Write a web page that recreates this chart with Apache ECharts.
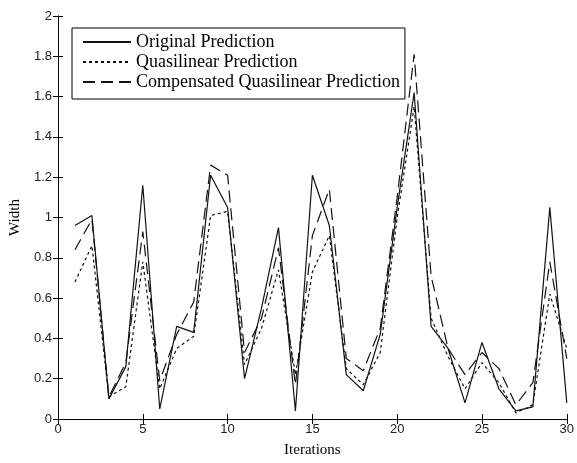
<!DOCTYPE html>
<html>
<head>
<meta charset="utf-8">
<script src="https://cdn.jsdelivr.net/npm/echarts@6/dist/echarts.min.js"></script>
<style>
html,body{margin:0;padding:0;background:#fff;}
#chart{width:577px;height:463px;}
</style>
</head>
<body>
<div id="chart"></div>
<script>
var iterations = [1,2,3,4,5,6,7,8,9,10,11,12,13,14,15,16,17,18,19,20,21,22,23,24,25,26,27,28,29,30];
var originalPrediction = [0.96,1.01,0.10,0.26,1.16,0.05,0.46,0.43,1.21,1.05,0.20,0.55,0.95,0.04,1.21,0.96,0.22,0.14,0.42,1.05,1.62,0.46,0.35,0.08,0.38,0.15,0.04,0.06,1.05,0.08];
var quasilinearPrediction = [0.68,0.86,0.11,0.16,0.78,0.15,0.35,0.41,1.01,1.03,0.27,0.45,0.74,0.22,0.73,0.91,0.25,0.17,0.33,1.00,1.55,0.50,0.31,0.15,0.28,0.18,0.03,0.07,0.62,0.35];
var compensatedPrediction = [0.84,0.99,0.11,0.28,0.93,0.19,0.42,0.58,1.26,1.21,0.33,0.50,0.85,0.17,0.91,1.14,0.30,0.24,0.45,1.10,1.81,0.71,0.35,0.22,0.33,0.25,0.07,0.18,0.78,0.30];
var seriesNames = ['Original Prediction','Quasilinear Prediction','Compensated Quasilinear Prediction'];

function pairs(vals){ return iterations.map(function(x,i){ return [x, vals[i]]; }); }

var chart = echarts.init(document.getElementById('chart'));
var axisLineStyle = {color:'#000', width:1};
var labelStyle = {fontFamily:'Liberation Sans', fontSize:13, color:'#222'};
chart.setOption({
  animation:false,
  backgroundColor:'#fff',
  grid:{left:58, right:5, top:16, bottom:42},
  legend:{
    orient:'vertical', left:72, top:28,
    backgroundColor:'#fff',
    borderColor:'#000', borderWidth:1,
    padding:[5,5,8,10],
    itemWidth:48, itemHeight:14, itemGap:2, itemTextGap:8,
    itemStyle:{opacity:0},
    textStyle:{fontFamily:'Liberation Serif', fontSize:18, lineHeight:18, color:'#000'},
    data:seriesNames
  },
  xAxis:[{
    type:'value', min:0, max:30, interval:5,
    name:'Iterations', nameLocation:'middle', nameGap:24,
    nameTextStyle:{fontFamily:'Liberation Serif', fontSize:15, color:'#000'},
    axisLine:{show:true, lineStyle:axisLineStyle},
    axisTick:{show:true, inside:true, length:5, lineStyle:axisLineStyle},
    axisLabel:Object.assign({margin:4}, labelStyle),
    splitLine:{show:false}
  },{
    type:'value', min:0, max:30, interval:5, position:'top',
    axisLine:{show:true, lineStyle:axisLineStyle},
    axisTick:{show:true, inside:true, length:5, lineStyle:axisLineStyle},
    axisLabel:{show:false}, splitLine:{show:false}
  }],
  yAxis:[{
    type:'value', min:0, max:2, interval:0.2,
    name:'Width', nameLocation:'middle', nameGap:33, nameRotate:90,
    nameTextStyle:{fontFamily:'Liberation Serif', fontSize:15, color:'#000'},
    axisLine:{show:true, lineStyle:axisLineStyle},
    axisTick:{show:true, inside:true, length:5, lineStyle:axisLineStyle},
    axisLabel:Object.assign({margin:6}, labelStyle),
    splitLine:{show:false}
  },{
    type:'value', min:0, max:2, interval:0.2, position:'right',
    axisLine:{show:true, lineStyle:axisLineStyle},
    axisTick:{show:true, inside:true, length:5, lineStyle:axisLineStyle},
    axisLabel:{show:false}, splitLine:{show:false}
  }],
  series:[
    {name:seriesNames[0], type:'line', data:pairs(originalPrediction), symbol:'none',
     lineStyle:{color:'#111', width:1.2, type:'solid'}, itemStyle:{color:'#111'}},
    {name:seriesNames[1], type:'line', data:pairs(quasilinearPrediction), symbol:'none',
     lineStyle:{color:'#111', width:1.2, type:[3,3]}, itemStyle:{color:'#111'}},
    {name:seriesNames[2], type:'line', data:pairs(compensatedPrediction), symbol:'none',
     lineStyle:{color:'#111', width:1.2, type:[12,6]}, itemStyle:{color:'#111'}}
  ]
});
</script>
</body>
</html>
